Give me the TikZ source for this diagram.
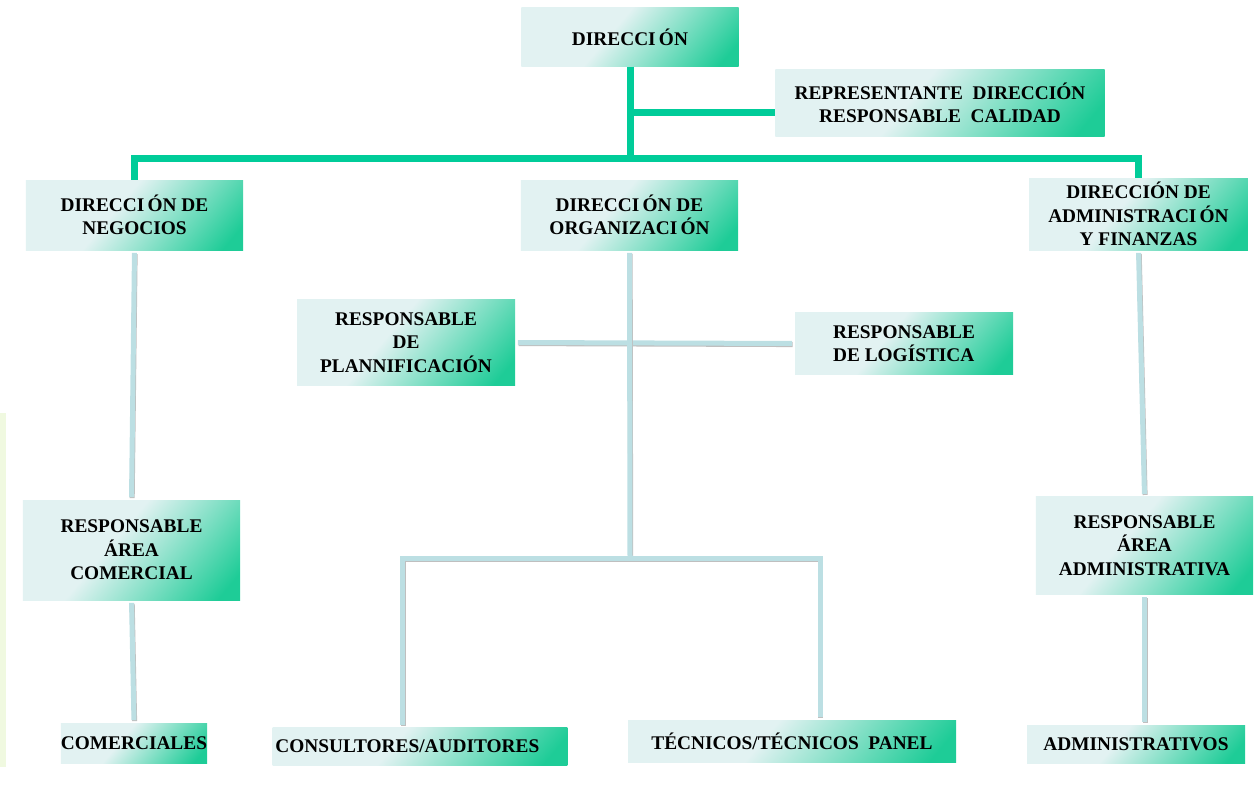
\documentclass[tikz,border=0pt]{standalone}
\usepackage{fontspec}
\setmainfont{Liberation Serif}
\usetikzlibrary{positioning}

\definecolor{boxlight}{HTML}{E2F2F2}
\definecolor{boxgreen}{HTML}{1ECC97}
\definecolor{linegreen}{HTML}{00CC99}
\definecolor{linegrey}{HTML}{BCDFE3}
\definecolor{sidebar}{HTML}{F0F9E0}

\pgfdeclarehorizontalshading{boxfade}{100bp}{color(0bp)=(boxlight); color(25bp)=(boxlight);
  color(44bp)=(boxlight); color(80bp)=(boxgreen); color(100bp)=(boxgreen)}

\tikzset{
  unit/.style={rectangle, shading=boxfade, shading angle=-40, inner sep=2pt, align=center,
    font=\bfseries\fontsize{14.5}{17.5}\selectfont},
  topline/.style={draw=linegreen, line width=5.25pt},
  subline/.style={draw=linegrey, line width=3.75pt, shorten <=2pt, shorten >=2pt,
    preaction={draw=black!25, line width=3.75pt, shorten <=2pt, shorten >=2pt,
      transform canvas={shift={(0.5pt,-0.8pt)}}}}
}

\begin{document}
\begin{tikzpicture}[x=0.75pt, y=-0.75pt]
    \useasboundingbox (0,0) rectangle (1258,785);
    \fill [sidebar] (0,413) rectangle (6,767);

    % top level
    \node [unit, minimum width=163pt, minimum height=44pt] (dir) at (630,37) {DIRECCI\,ÓN};
    \node [unit, minimum width=247pt, minimum height=50pt] (rep) at (940,103)
      {REPRESENTANTE \ DIRECCIÓN\\RESPONSABLE \ CALIDAD};

    % directions
    \node [unit, minimum width=163pt, minimum height=52.5pt] (neg) at (134.5,215)
      {DIRECCI\,ÓN DE\\NEGOCIOS};
    \node [unit, minimum width=163pt, minimum height=52.5pt] (org) at (629.5,215)
      {DIRECCI\,ÓN DE\\ORGANIZACI\,ÓN};
    \node [unit, minimum width=164pt, minimum height=54pt] (adm) at (1138.5,214)
      {DIRECCIÓN DE\\ADMINISTRACI\,ÓN\\Y FINANZAS};

    \node [unit, minimum width=163.5pt, minimum height=64pt] (plan) at (406,342.5)
      {RESPONSABLE\\DE\\PLANNIFICACIÓN};
    \node [unit, minimum width=163.5pt, minimum height=46pt, align=left] (log) at (904,343.5)
      {RESPONSABLE\\DE LOGÍSTICA};

    \node [unit, minimum width=163pt, minimum height=75pt] (rcom) at (131.5,550)
      {RESPONSABLE\\ÁREA\\COMERCIAL};
    \node [unit, minimum width=163pt, minimum height=73pt] (radm) at (1144.5,545.5)
      {RESPONSABLE\\ÁREA\\ADMINISTRATIVA};

    % bottom level
    \node [unit, minimum width=108pt, minimum height=30pt, inner xsep=0pt] (comer) at (134,743)
      {COMERCIALES};
    \node [unit, minimum width=220.5pt, minimum height=28pt, text width=217pt, align=left]
      (cons) at (420,746.5) {\raisebox{-3pt}{CONSULTORES/AUDITORES}};
    \node [unit, minimum width=246pt, minimum height=32pt] (tec) at (792,741.5)
      {TÉCNICOS/TÉCNICOS \ PANEL};
    \node [unit, minimum width=163.5pt, minimum height=28.5pt] (admv) at (1136,744)
      {ADMINISTRATIVOS};

    % green connectors
    \coordinate (bus) at (630,158);
    \coordinate (repin) at (775,112);
    \draw [topline] (dir.south) -- (bus);
    \draw [topline] (dir.south |- repin) -- (repin);
    \draw [topline] (neg.north) |- (bus) -| (adm.north);

    % grey connectors
    \coordinate (orgj) at (630,558);
    \draw [subline] (neg.south) -- (rcom.north);
    \draw [subline] (rcom.south) -- (comer.north);
    \draw [subline] (adm.south) -- (radm.north);
    \draw [subline] (radm.south) -- (radm.south |- admv.north);
    \draw [subline] (plan.east) -- (log.west);
    \draw [subline, shorten >=0pt] (org.south) -- (orgj);
    \draw [subline] ([xshift=-13pt]cons.north) |- (orgj) -| ([xshift=21pt]tec.north);
\end{tikzpicture}
\end{document}
